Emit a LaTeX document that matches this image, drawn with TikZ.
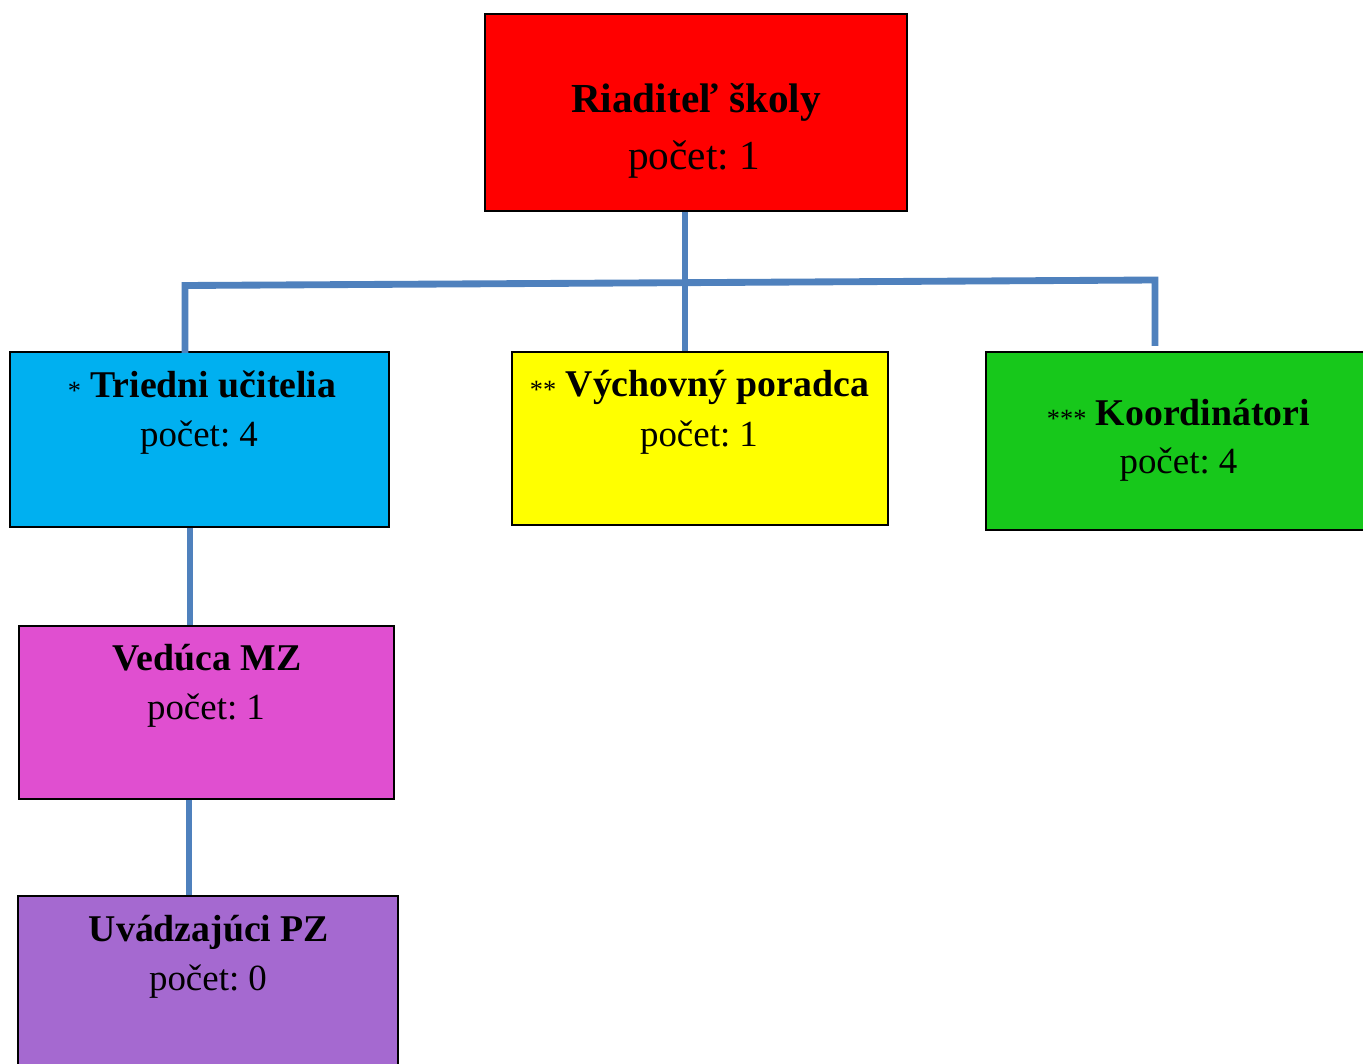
\documentclass[tikz,border=0pt]{standalone}
\usepackage{fontspec}
\setmainfont{Liberation Serif}
\frenchspacing
\definecolor{cRed}{HTML}{FF0000}
\definecolor{cBlue}{HTML}{00B0F0}
\definecolor{cYellow}{HTML}{FFFF00}
\definecolor{cGreen}{HTML}{17C81B}
\definecolor{cMag}{HTML}{E04FD0}
\definecolor{cPurple}{HTML}{A569D0}
\definecolor{cLine}{HTML}{4F81BD}
\tikzset{
  box/.style={draw=black, line width=1.2pt, rectangle, inner sep=0pt},
  ttl/.style={anchor=base, inner sep=0pt, font=\fontsize{21.5}{24}\selectfont\bfseries},
  cnt/.style={anchor=base, inner sep=0pt, font=\fontsize{21}{24}\selectfont},
  bigttl/.style={anchor=base, inner sep=0pt, font=\fontsize{23.5}{26}\selectfont\bfseries},
  bigcnt/.style={anchor=base, inner sep=0pt, font=\fontsize{23.5}{26}\selectfont},
  conn/.style={draw=cLine, line width=3.9pt, line join=miter},
}
\newcommand{\stars}[1]{{\fontsize{15}{15}\selectfont\mdseries\raisebox{-1pt}{#1}}}
\begin{document}
\begin{tikzpicture}[x=0.02cm, y=-0.02cm]
\useasboundingbox (0,0) rectangle (1363,1064);
\clip (0,0) rectangle (1363,1064);
\fill[white] (0,0) rectangle (1363,1064);

% boxes
\node[box, fill=cRed, minimum width=8.44cm, minimum height=3.94cm] (red) at (696,112.5) {};
\node[box, fill=cBlue, minimum width=7.58cm, minimum height=3.5cm] (blue) at (199.5,439.5) {};
\node[box, fill=cYellow, minimum width=7.52cm, minimum height=3.46cm] (yel) at (700,438.5) {};
\node[box, fill=cGreen, minimum width=7.7cm, minimum height=3.56cm] (grn) at (1178.5,441) {};
\node[box, fill=cMag, minimum width=7.5cm, minimum height=3.46cm] (mag) at (206.5,712.5) {};
\node[box, fill=cPurple, minimum width=7.6cm, minimum height=3.68cm] (pur) at (208,988) {};

% texts
\node[bigttl] (redT) at (696,113) {Riaditeľ školy};
\node[bigcnt] (redC) at (694,170) {počet: 1};
\node[ttl] (blueT) at (202,397.5) {\stars{*} Triedni učitelia};
\node[cnt] (blueC) at (199,446) {počet: 4};
\node[ttl] (yelT) at (699.5,397) {\stars{**} Výchovný poradca};
\node[cnt] (yelC) at (699,446) {počet: 1};
\node[ttl] (grnT) at (1178.5,425.5) {\stars{***} Koordinátori};
\node[cnt] (grnC) at (1178.5,473) {počet: 4};
\node[ttl] (magT) at (207,670.5) {Vedúca MZ};
\node[cnt] (magC) at (206,719) {počet: 1};
\node[ttl] (purT) at (209,941.5) {Uvádzajúci PZ};
\node[cnt] (purC) at (208,990) {počet: 0};

% connectors
\coordinate (trunk) at (685,283);
\coordinate (hl) at (185,285.5);
\coordinate (hr) at (1155,280);
\coordinate (lb) at (190,0);
\coordinate (lc) at (189,0);
\draw[conn] (red.south -| trunk) -- (yel.north -| trunk);
\draw[conn] ([yshift=-0.04cm]blue.north -| hl) -- (hl) -- (hr) -- ([yshift=0.1cm]grn.north -| hr);
\draw[conn] (blue.south -| lb) -- (mag.north -| lb);
\draw[conn] (mag.south -| lc) -- (pur.north -| lc);
\end{tikzpicture}
\end{document}
